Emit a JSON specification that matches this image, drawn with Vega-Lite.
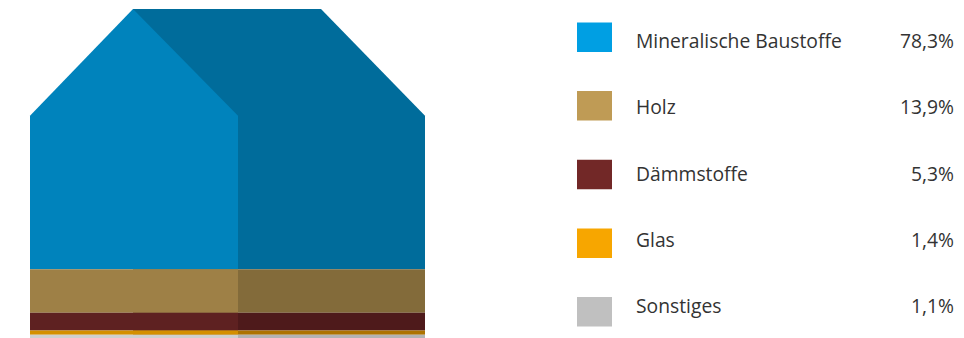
{
  "$schema": "https://vega.github.io/schema/vega-lite/v6.json",
  "padding": {"left": 30, "top": 9, "right": 0, "bottom": 0},
  "background": "white",
  "config": {
    "view": {"stroke": null},
    "locale": {"number": {"decimal": ",", "thousands": ".", "grouping": [3], "currency": ["", " €"]}},
    "text": {"font": "Open Sans", "fontSize": 19.3, "fill": "#333333"}
  },
  "datasets": {
    "shares": [
      {"material": "Mineralische Baustoffe", "share": 0.783},
      {"material": "Holz", "share": 0.139},
      {"material": "Dämmstoffe", "share": 0.053},
      {"material": "Glas", "share": 0.014},
      {"material": "Sonstiges", "share": 0.011}
    ],
    "house": [
      {"face": "left", "x": 0, "material": "Mineralische Baustoffe", "h": 153.6},
      {"face": "left", "x": 0, "material": "Holz", "h": 43.4},
      {"face": "left", "x": 0, "material": "Dämmstoffe", "h": 17.8},
      {"face": "left", "x": 0, "material": "Glas", "h": 4.2},
      {"face": "left", "x": 0, "material": "Sonstiges", "h": 3.3},
      {"face": "left", "x": 103, "material": "Mineralische Baustoffe", "h": 260.3},
      {"face": "left", "x": 103, "material": "Holz", "h": 43.4},
      {"face": "left", "x": 103, "material": "Dämmstoffe", "h": 17.8},
      {"face": "left", "x": 103, "material": "Glas", "h": 4.2},
      {"face": "left", "x": 103, "material": "Sonstiges", "h": 3.3},
      {"face": "left", "x": 208, "material": "Mineralische Baustoffe", "h": 153.6},
      {"face": "left", "x": 208, "material": "Holz", "h": 43.4},
      {"face": "left", "x": 208, "material": "Dämmstoffe", "h": 17.8},
      {"face": "left", "x": 208, "material": "Glas", "h": 4.2},
      {"face": "left", "x": 208, "material": "Sonstiges", "h": 3.3},
      {"face": "right", "x": 103, "material": "Mineralische Baustoffe", "h": 260.3},
      {"face": "right", "x": 103, "material": "Holz", "h": 43.4},
      {"face": "right", "x": 103, "material": "Dämmstoffe", "h": 17.8},
      {"face": "right", "x": 103, "material": "Glas", "h": 4.2},
      {"face": "right", "x": 103, "material": "Sonstiges", "h": 3.3},
      {"face": "right", "x": 291, "material": "Mineralische Baustoffe", "h": 260.3},
      {"face": "right", "x": 291, "material": "Holz", "h": 43.4},
      {"face": "right", "x": 291, "material": "Dämmstoffe", "h": 17.8},
      {"face": "right", "x": 291, "material": "Glas", "h": 4.2},
      {"face": "right", "x": 291, "material": "Sonstiges", "h": 3.3},
      {"face": "right", "x": 395, "material": "Mineralische Baustoffe", "h": 153.6},
      {"face": "right", "x": 395, "material": "Holz", "h": 43.4},
      {"face": "right", "x": 395, "material": "Dämmstoffe", "h": 17.8},
      {"face": "right", "x": 395, "material": "Glas", "h": 4.2},
      {"face": "right", "x": 395, "material": "Sonstiges", "h": 3.3}
    ]
  },
  "bounds": "flush",
  "spacing": 152,
  "resolve": {"scale": {"color": "independent", "x": "independent", "y": "independent"}},
  "hconcat": [
    {
      "width": 395,
      "height": 329,
      "data": {"name": "house"},
      "transform": [
        {"lookup": "material", "from": {"data": {"name": "shares"}, "key": "material", "fields": ["share"]}}
      ],
      "encoding": {
        "x": {"field": "x", "type": "quantitative", "scale": {"domain": [0, 395], "nice": false, "zero": false}, "axis": null},
        "y": {"field": "h", "type": "quantitative", "stack": "zero", "scale": {"domain": [0, 329], "nice": false}, "axis": null},
        "order": {"field": "share", "type": "quantitative", "sort": "ascending"}
      },
      "resolve": {"scale": {"color": "independent"}},
      "layer": [
        {
          "transform": [{"filter": "datum.face === 'right'"}],
          "mark": {"type": "area", "interpolate": "linear"},
          "encoding": {
            "color": {
              "field": "material", "type": "nominal", "legend": null,
              "scale": {
                "domain": ["Mineralische Baustoffe", "Holz", "Dämmstoffe", "Glas", "Sonstiges"],
                "range": ["#006c9b", "#836b3a", "#4e1a1b", "#ad7300", "#b3b3b3"]
              }
            }
          }
        },
        {
          "transform": [{"filter": "datum.face === 'left'"}],
          "mark": {"type": "area", "interpolate": "linear"},
          "encoding": {
            "color": {
              "field": "material", "type": "nominal", "legend": null,
              "scale": {
                "domain": ["Mineralische Baustoffe", "Holz", "Dämmstoffe", "Glas", "Sonstiges"],
                "range": ["#0083bc", "#9e8046", "#5e2121", "#d48f00", "#cfcfcf"]
              }
            }
          }
        }
      ]
    },
    {
      "bounds": "flush",
      "spacing": 23,
      "hconcat": [
        {
          "width": 35,
          "height": 331,
          "data": {"name": "shares"},
          "mark": {"type": "bar"},
          "encoding": {
            "y": {"field": "material", "type": "nominal", "sort": {"field": "share", "order": "descending"}, "scale": {"paddingInner": 0.57, "paddingOuter": 0.195}, "axis": null},
            "color": {
              "field": "material", "type": "nominal", "legend": null,
              "scale": {
                "domain": ["Mineralische Baustoffe", "Holz", "Dämmstoffe", "Glas", "Sonstiges"],
                "range": ["#009fe3", "#bf9b55", "#722827", "#f7a600", "#c0c0c0"]
              }
            }
          }
        },
        {
          "bounds": "flush",
          "spacing": 316,
          "hconcat": [
            {
              "width": 2,
              "height": 331,
              "data": {"name": "shares"},
              "mark": {"type": "text", "align": "left", "baseline": "middle"},
              "encoding": {
                "y": {"field": "material", "type": "nominal", "sort": {"field": "share", "order": "descending"}, "scale": {"paddingInner": 0.57, "paddingOuter": 0.195}, "axis": null},
                "text": {"field": "material", "type": "nominal"}
              }
            },
            {
              "width": 2,
              "height": 331,
              "data": {"name": "shares"},
              "mark": {"type": "text", "align": "right", "baseline": "middle"},
              "encoding": {
                "y": {"field": "material", "type": "nominal", "sort": {"field": "share", "order": "descending"}, "scale": {"paddingInner": 0.57, "paddingOuter": 0.195}, "axis": null},
                "text": {"field": "share", "type": "quantitative", "format": ".1%"}
              }
            }
          ]
        }
      ]
    }
  ]
}
